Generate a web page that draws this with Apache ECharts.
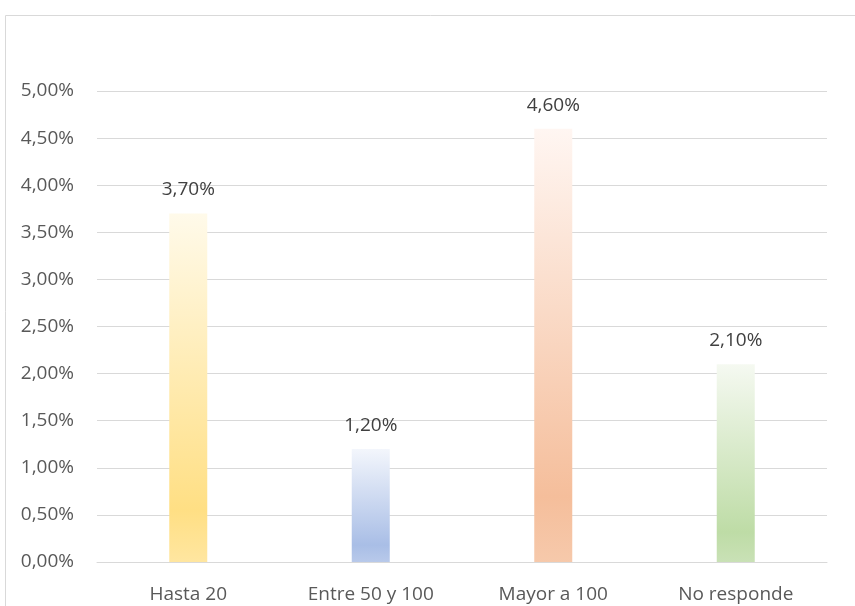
<!DOCTYPE html>
<html>
<head>
<meta charset="utf-8">
<script src="https://cdn.jsdelivr.net/npm/echarts@6/dist/echarts.min.js"></script>
<style>
  html, body { margin: 0; padding: 0; background: #fff; }
  #chart { width: 855px; height: 606px; }
</style>
</head>
<body>
<div id="chart"></div>
<script>
// datos
const categorias = ['Hasta 20', 'Entre 50 y 100', 'Mayor a 100', 'No responde'];
const valores = [3.7, 1.2, 4.6, 2.1];
// colores de cada barra: [arriba, fuerte, abajo]
const colores = [
  ['#fffaea', '#ffdf84', '#ffe6a0'],
  ['#f3f6fc', '#a9bee6', '#b8c9ea'],
  ['#fff6f2', '#f5be9b', '#f6c9ab'],
  ['#f5f9f1', '#bedca6', '#c9e1b6'],
];

const fmt = v => v.toFixed(2).replace('.', ',') + '%';

const chart = echarts.init(document.getElementById('chart'));
const option = {
  animation: false,
  textStyle: { fontFamily: 'Open Sans, Liberation Sans, sans-serif' },
  graphic: [{
    type: 'rect',
    shape: { x: 5.5, y: 15.5, width: 900, height: 700 },
    style: { fill: 'none', stroke: '#d9d9d9', lineWidth: 1 },
    silent: true,
  }],
  grid: { left: 97, right: 28, top: 91, bottom: 44 },
  xAxis: {
    type: 'category',
    data: categorias,
    axisTick: { show: false },
    axisLine: { lineStyle: { color: '#d9d9d9' } },
    axisLabel: { color: '#595959', fontSize: 19, margin: 23 },
  },
  yAxis: {
    type: 'value',
    min: 0,
    max: 5,
    interval: 0.5,
    axisLabel: { color: '#595959', fontSize: 19, margin: 23, formatter: fmt },
    splitLine: { lineStyle: { color: '#d9d9d9' } },
  },
  series: [{
    type: 'bar',
    barWidth: 38,
    data: valores.map((v, i) => ({
      value: v,
      itemStyle: {
        color: new echarts.graphic.LinearGradient(0, 0, 0, 1, [
          { offset: 0, color: colores[i][0] },
          { offset: 0.85, color: colores[i][1] },
          { offset: 1, color: colores[i][2] },
        ]),
      },
    })),
    label: {
      show: true,
      position: 'top',
      distance: 14,
      color: '#404040',
      fontSize: 19,
      formatter: p => fmt(p.value),
    },
  }],
};
chart.setOption(option);
</script>
</body>
</html>
